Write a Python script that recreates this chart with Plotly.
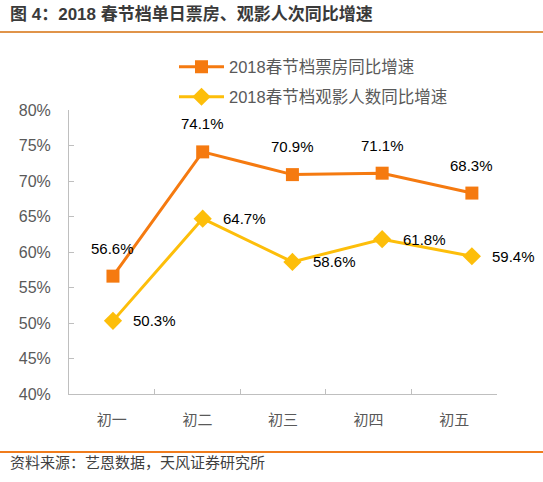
import plotly.graph_objects as go

categories = ["初一", "初二", "初三", "初四", "初五"]
box_office = [56.6, 74.1, 70.9, 71.1, 68.3]
audience = [50.3, 64.7, 58.6, 61.8, 59.4]
name_box = "2018春节档票房同比增速"
name_aud = "2018春节档观影人数同比增速"
title_text = "图 4：2018 春节档单日票房、观影人次同比增速"
source_text = "资料来源：艺恩数据，天风证券研究所"

ORANGE = "#F57A10"
YELLOW = "#FDBE0A"
FONT = "Liberation Sans, Noto Sans CJK SC, sans-serif"
GRAY_TXT = "#595959"
AX = "#BFBFBF"

fig = go.Figure()

# invisible trace to anchor visible category axis
fig.add_trace(go.Scatter(x=categories, y=[None] * len(categories), mode="lines",
                         showlegend=False, hoverinfo="skip", xaxis="x", yaxis="y"))

fig.add_trace(go.Scatter(
    x=categories, y=box_office, name=name_box, mode="lines+markers",
    line=dict(color=ORANGE, width=3),
    marker=dict(symbol="square", size=13, color=ORANGE),
    xaxis="x2", yaxis="y", legend="legend"))
fig.add_trace(go.Scatter(
    x=categories, y=audience, name=name_aud, mode="lines+markers",
    line=dict(color=YELLOW, width=3),
    marker=dict(symbol="diamond", size=14, color=YELLOW),
    xaxis="x2", yaxis="y", legend="legend2"))

annotations = []
for c, v in zip(categories, box_office):
    annotations.append(dict(x=c, y=v, xref="x2", yref="y", text=f"{v}%",
                            showarrow=False, yshift=28,
                            font=dict(family=FONT, size=15, color="#000000")))
for c, v in zip(categories, audience):
    annotations.append(dict(x=c, y=v, xref="x2", yref="y", text=f"{v}%",
                            showarrow=False, xshift=42,
                            font=dict(family=FONT, size=15, color="#000000")))

L, R, T, B = 69, 46, 110, 88
W, H = 543, 482
pw, ph = W - L - R, H - T - B

def px_x(px):
    return (px - L) / pw

def px_y(py):
    return (H - B - py) / ph

annotations.append(dict(x=px_x(8), y=px_y(15), xref="paper", yref="paper",
                        xanchor="left", yanchor="middle", showarrow=False,
                        text="<b>" + title_text + "</b>",
                        font=dict(family=FONT, size=17, color="#3A3A3A")))
annotations.append(dict(x=px_x(8), y=px_y(462), xref="paper", yref="paper",
                        xanchor="left", yanchor="middle", showarrow=False,
                        text=source_text,
                        font=dict(family=FONT, size=15, color="#404040")))

shapes = [
    dict(type="line", xref="paper", yref="paper", x0=px_x(0), x1=px_x(W),
         y0=px_y(32), y1=px_y(32), line=dict(color="#E0944A", width=2)),
    dict(type="line", xref="paper", yref="paper", x0=px_x(0), x1=px_x(W),
         y0=px_y(452), y1=px_y(452), line=dict(color="#F07C1C", width=2)),
]

legend_font = dict(family=FONT, size=16.5, color=GRAY_TXT)
fig.update_layout(
    width=W, height=H,
    margin=dict(l=L, r=R, t=T, b=B, pad=0),
    paper_bgcolor="white", plot_bgcolor="white",
    font=dict(family=FONT, size=15, color=GRAY_TXT),
    annotations=annotations, shapes=shapes,
    legend=dict(x=px_x(174), y=px_y(67), xanchor="left", yanchor="middle",
                font=legend_font, bgcolor="rgba(0,0,0,0)", itemwidth=45),
    legend2=dict(x=px_x(174), y=px_y(97), xanchor="left", yanchor="middle",
                 font=legend_font, bgcolor="rgba(0,0,0,0)", itemwidth=45),
    xaxis=dict(type="category", categoryorder="array", categoryarray=categories,
               range=[-0.5, 4.5], showline=True, linecolor=AX, linewidth=1,
               ticks="inside", tickson="boundaries", ticklen=5, tickcolor=AX,
               showgrid=False, zeroline=False, ticklabelstandoff=12,
               tickfont=dict(family=FONT, size=15, color=GRAY_TXT)),
    xaxis2=dict(type="category", categoryorder="array", categoryarray=categories,
                range=[-0.49, 4.28], overlaying="x", visible=False),
    yaxis=dict(range=[40, 80], dtick=5, ticksuffix="%", showline=True,
               linecolor=AX, linewidth=1, ticks="inside", ticklen=5, tickcolor=AX,
               showgrid=False, zeroline=False, ticklabelstandoff=14,
               tickfont=dict(family=FONT, size=16, color=GRAY_TXT)),
)

fig.write_html("out.html")
